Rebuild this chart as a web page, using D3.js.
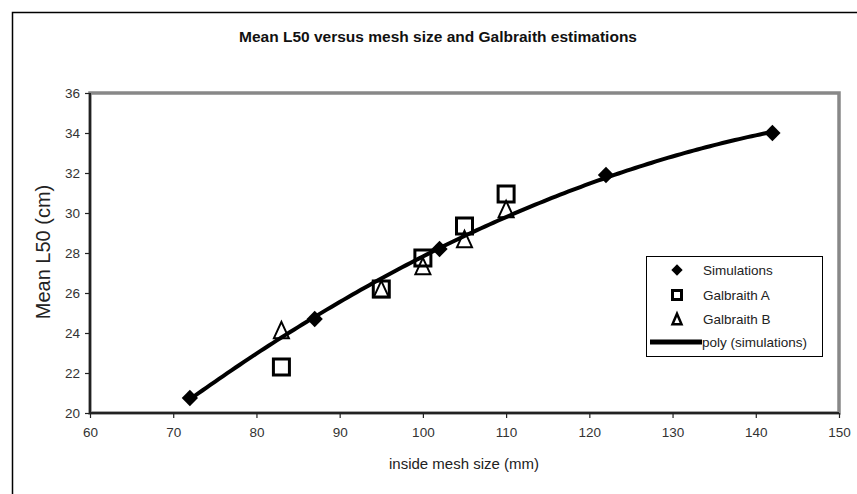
<!DOCTYPE html>
<html><head><meta charset="utf-8">
<script src="https://cdn.jsdelivr.net/npm/d3@7"></script>
<style>body{margin:0;background:#fff;} svg{display:block;font-family:"Liberation Sans",Arial,sans-serif;}</style>
</head><body>
<svg id="c" width="857" height="494"></svg>
<script>
const title = "Mean L50 versus mesh size and Galbraith estimations";
const xTicks = [60,70,80,90,100,110,120,130,140,150];
const yTicks = [20,22,24,26,28,30,32,34,36];
const simX = [72,87,102,122,142];
const simY = [20.75,24.7,28.2,31.9,34.0];
const galAX = [83,95,100,105,110];
const galAY = [22.3,26.2,27.75,29.35,30.95];
const galBX = [83,95,100,105,110];
const galBY = [24.1,26.15,27.3,28.65,30.15];
const legendLabels = ["Simulations","Galbraith A","Galbraith B","poly (simulations)"];

const svg = d3.select("#c");
const x = d3.scaleLinear().domain([60,150]).range([90,839]);
const y = d3.scaleLinear().domain([20,36]).range([413,93]);

// outer frame
svg.append("rect").attr("x",12.5).attr("y",12.5).attr("width",900).attr("height",600)
  .attr("fill","none").attr("stroke","#000").attr("stroke-width",1.5);

// title
svg.append("text").attr("x",438).attr("y",42).attr("text-anchor","middle")
  .attr("font-weight","bold").attr("font-size",15.5).attr("fill","#111").text(title);

// plot border gray
svg.append("rect").attr("x",x(60)).attr("y",y(36)).attr("width",x(150)-x(60)).attr("height",y(20)-y(36))
  .attr("fill","none").attr("stroke","#888").attr("stroke-width",3.5);

// axes
const xAxis = d3.axisBottom(x).tickValues(xTicks).tickSize(5).tickPadding(9);
const yAxis = d3.axisLeft(y).tickValues(yTicks).tickSize(5).tickPadding(5);
const gx = svg.append("g").attr("transform",`translate(0,${y(20)})`).call(xAxis);
const gy = svg.append("g").attr("transform",`translate(${x(60)},0)`).call(yAxis);
[gx,gy].forEach(g=>{
  g.select(".domain").attr("stroke","#222").attr("stroke-width",2);
  g.selectAll(".tick line").attr("stroke","#222").attr("stroke-width",1.2);
  g.selectAll(".tick text").attr("fill","#333").attr("font-size",13.5).attr("font-family","Liberation Sans, Arial, sans-serif");
});
gx.select(".domain").attr("d",`M${x(60)},0H${x(150)}`);
gy.select(".domain").attr("d",`M0,${y(20)}V${y(36)}`);

// axis titles
svg.append("text").attr("x",464).attr("y",469).attr("text-anchor","middle").attr("font-size",15).attr("fill","#222").text("inside mesh size (mm)");
svg.append("text").attr("transform","translate(50,252) rotate(-90)").attr("text-anchor","middle").attr("font-size",20).attr("fill","#222").text("Mean L50 (cm)");

// quadratic least-squares fit on simulations
function quadFit(xs, ys){
  let n=xs.length,s=[0,0,0,0,0],t=[0,0,0];
  for(let i=0;i<n;i++){let p=1;for(let k=0;k<5;k++){s[k]+=p;if(k<3)t[k]+=p*ys[i];p*=xs[i];}}
  const A=[[s[0],s[1],s[2],t[0]],[s[1],s[2],s[3],t[1]],[s[2],s[3],s[4],t[2]]];
  for(let i=0;i<3;i++){for(let j=i+1;j<3;j++){const f=A[j][i]/A[i][i];for(let k=i;k<4;k++)A[j][k]-=f*A[i][k];}}
  const c=[0,0,0];
  for(let i=2;i>=0;i--){let v=A[i][3];for(let k=i+1;k<3;k++)v-=A[i][k]*c[k];c[i]=v/A[i][i];}
  return c;
}
const co = quadFit(simX, simY);
const xmin=d3.min(simX), xmax=d3.max(simX);
const curvePts = d3.range(xmin, xmax+0.001, 0.5).map(v=>[v, co[0]+co[1]*v+co[2]*v*v]);
svg.append("path").attr("d", d3.line().x(d=>x(d[0])).y(d=>y(d[1]))(curvePts))
  .attr("fill","none").attr("stroke","#000").attr("stroke-width",4);

// markers
function drawSim(g, cx, cy, s){
  g.append("rect").attr("x",-s/2).attr("y",-s/2).attr("width",s).attr("height",s)
   .attr("transform",`translate(${cx},${cy}) rotate(45)`).attr("fill","#000");
}
function drawSq(g,cx,cy,s,sw){
  g.append("rect").attr("x",cx-s/2).attr("y",cy-s/2).attr("width",s).attr("height",s)
   .attr("fill","none").attr("stroke","#000").attr("stroke-width",sw);
}
function drawTri(g,cx,cy,s,sw){
  const h=s*0.95;
  g.append("path").attr("d",`M${cx},${cy-h/2-2}L${cx+s/2},${cy+h/2}L${cx-s/2},${cy+h/2}Z`)
   .attr("fill","none").attr("stroke","#000").attr("stroke-width",sw).attr("stroke-linejoin","miter");
}
const gm = svg.append("g");
simX.forEach((v,i)=>drawSim(gm,x(v),y(simY[i]),11.5));
galAX.forEach((v,i)=>drawSq(gm,x(v),y(galAY[i]),16,3));
galBX.forEach((v,i)=>drawTri(gm,x(v),y(galBY[i]),15,2));

// legend
const lg = svg.append("g");
lg.append("rect").attr("x",646.5).attr("y",256.5).attr("width",176).attr("height",100)
  .attr("fill","#fff").attr("stroke","#000").attr("stroke-width",1);
const ly=[270,295,319,342];
drawSim(lg,677,ly[0],8);
drawSq(lg,677,ly[1],9,3);
drawTri(lg,677,ly[2]+1,9,2.5);
lg.append("line").attr("x1",650).attr("x2",702).attr("y1",ly[3]).attr("y2",ly[3]).attr("stroke","#000").attr("stroke-width",5);
legendLabels.forEach((t,i)=>{
  lg.append("text").attr("x",i===3?702:703).attr("y",ly[i]+5).attr("font-size",13.5).attr("fill","#222").text(t);
});
</script>
</body></html>
